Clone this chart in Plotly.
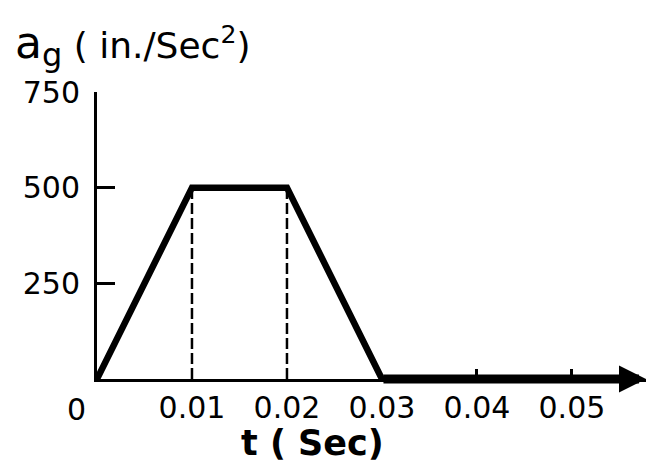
import plotly.graph_objects as go

# ground acceleration pulse
t_sec = [0.0, 0.01, 0.02, 0.03, 0.0535]
a_g = [0, 500, 500, 0, 0]

# dashed guides from the plateau corners down to the axis
guide_t = [0.01, 0.02]
guide_top = 500

x_ticks = [0.01, 0.02, 0.03, 0.04, 0.05]
x_ticktext = ["0.01", "0.02", "0.03", "0.04", "0.05"]
x_marks = [0.04, 0.05]
y_ticks = [250, 500, 750]
y_ticktext = ["250", "500", "750"]

t_end = 0.0578
FONT = "DejaVu Sans"
L, T, W, H = 97, 92, 549, 287   # plot box in pixels


def px(xp, yp):
    # pixel position -> paper coordinates
    return (xp - L) / W, (T + H - yp) / H


fig = go.Figure()

for gt in guide_t:
    fig.add_trace(go.Scatter(
        x=[gt, gt], y=[0, guide_top], mode="lines",
        line=dict(color="black", width=2.5, dash="11px,4px"),
        hoverinfo="skip", showlegend=False))

fig.add_trace(go.Scatter(
    x=t_sec, y=a_g, mode="lines",
    line=dict(color="black", width=6.5),
    cliponaxis=False, showlegend=False))

# heavy tail of the time axis with its arrowhead
fig.add_annotation(
    x=t_end, y=0, ax=t_sec[3], ay=0,
    xref="x", yref="y", axref="x", ayref="y",
    showarrow=True, arrowhead=2, arrowsize=0.6, arrowwidth=9,
    arrowcolor="black", text="")

# origin label sits left of the corner
ox, oy = px(76, 409)
fig.add_annotation(
    x=ox, y=oy, xref="paper", yref="paper", xanchor="center", yanchor="middle",
    text="0", showarrow=False, font=dict(family=FONT, size=30, color="black"))

# y title
tx, ty = px(13, 46)
fig.add_annotation(
    x=tx, y=ty, xref="paper", yref="paper", xanchor="left", yanchor="middle",
    text="<span style='font-size:44px'>a</span><sub><span style='font-size:32px'>g</span></sub>"
         " ( in./Sec<sup>2</sup>)",
    showarrow=False, font=dict(family=FONT, size=36, color="black"))

# x title
xx, xy = px(312, 443)
fig.add_annotation(
    x=xx, y=xy, xref="paper", yref="paper", xanchor="center", yanchor="middle",
    text="<b>t ( Sec)</b>", showarrow=False,
    font=dict(family=FONT, size=35, color="black"))

fig.update_xaxes(
    range=[0, t_end], showline=True, linewidth=3, linecolor="black",
    showgrid=False, zeroline=False,
    tickvals=x_ticks, ticktext=x_ticktext, ticks="",
    ticklabelstandoff=0,
    tickfont=dict(family=FONT, size=30, color="black"),
    minor=dict(tickvals=x_marks, ticks="inside", ticklen=10, tickwidth=2.5,
               tickcolor="black", showgrid=False))

fig.update_yaxes(
    range=[0, 750], showline=True, linewidth=3, linecolor="black",
    showgrid=False, zeroline=False,
    tickvals=y_ticks, ticktext=y_ticktext,
    ticks="inside", ticklen=18, tickwidth=2.5, tickcolor="black",
    ticklabelstandoff=8,
    tickfont=dict(family=FONT, size=30, color="black"))

fig.update_layout(
    width=646, height=466,
    margin=dict(l=L, r=646 - L - W, t=T, b=466 - T - H),
    paper_bgcolor="white", plot_bgcolor="white",
    showlegend=False)

# page body has a default 8px margin; drop it so the figure fills the window
fig.write_html("out.html", config={"displayModeBar": False},
               post_script="document.body.style.margin='0';")
